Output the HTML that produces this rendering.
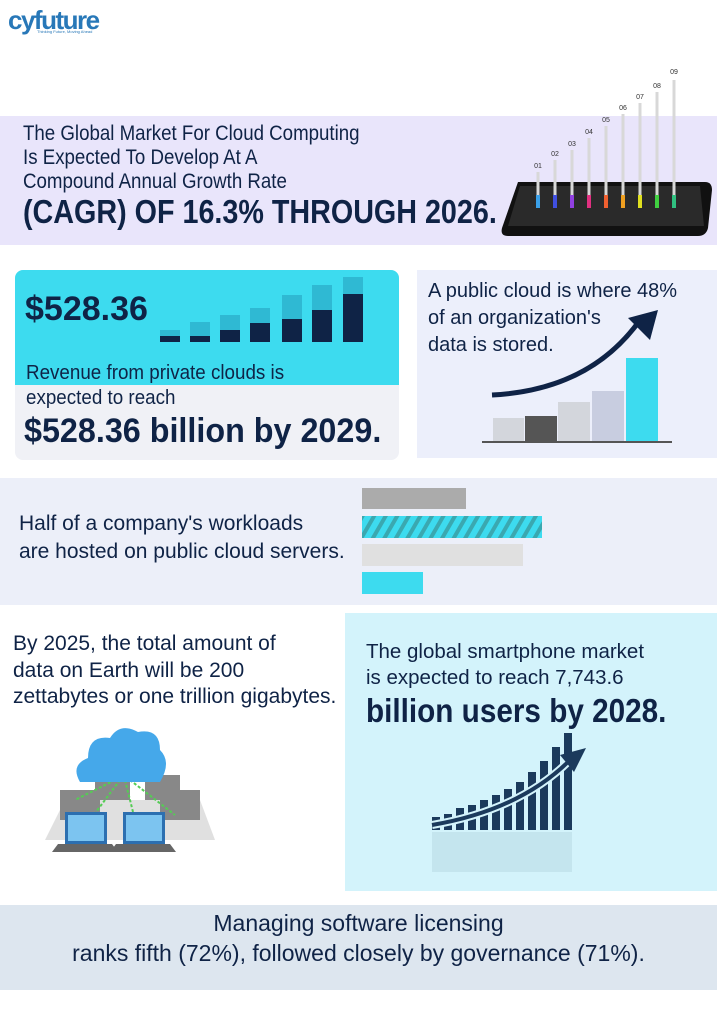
<!DOCTYPE html>
<html><head><meta charset="utf-8"><style>
body{margin:0;width:717px;height:1024px;background:#fff;position:relative;overflow:hidden;font-family:"Liberation Sans",sans-serif;color:#0f2346}
.a{position:absolute;white-space:nowrap;transform-origin:0 0}
.b{font-weight:bold}
</style></head><body>
<div class="a" style="left:0;top:116px;width:717px;height:129px;background:#e9e5fb"></div>
<div class="a" style="left:15px;top:270px;width:384px;height:190px;background:#f0f1f6;border-radius:8px"></div>
<div class="a" style="left:15px;top:270px;width:384px;height:115px;background:#3ddbef;border-radius:8px 8px 0 0"></div>
<div class="a" style="left:417px;top:270px;width:300px;height:188px;background:#eceffb"></div>
<div class="a" style="left:0;top:478px;width:717px;height:127px;background:#eceff9"></div>
<div class="a" style="left:345px;top:613px;width:372px;height:278px;background:#d3f3fb"></div>
<div class="a" style="left:0;top:905px;width:717px;height:85px;background:#dde6ef"></div>

<svg class="a" style="left:0;top:0" width="717" height="1024">
<path d="M518 182 L705 182 Q712 182 712 190 L708 228 Q706 236 698 236 L508 236 Q500 236 502 228 Z" fill="#111"/>
<path d="M520 186 L700 186 L704 226 L508 226 Z" fill="#2a2a2a"/>
<g stroke="#d8d8d8" stroke-width="3">
<line x1="538" y1="172" x2="538" y2="200"/><line x1="555" y1="160" x2="555" y2="200"/><line x1="572" y1="150" x2="572" y2="200"/><line x1="589" y1="138" x2="589" y2="200"/><line x1="606" y1="126" x2="606" y2="200"/><line x1="623" y1="114" x2="623" y2="200"/><line x1="640" y1="103" x2="640" y2="200"/><line x1="657" y1="92" x2="657" y2="200"/><line x1="674" y1="80" x2="674" y2="200"/></g>
<g stroke-width="4"><line x1="538" y1="195" x2="538" y2="208" stroke="#3aa0e8"/><line x1="555" y1="195" x2="555" y2="208" stroke="#4050e0"/><line x1="572" y1="195" x2="572" y2="208" stroke="#9040e0"/><line x1="589" y1="195" x2="589" y2="208" stroke="#e03080"/><line x1="606" y1="195" x2="606" y2="208" stroke="#f06030"/><line x1="623" y1="195" x2="623" y2="208" stroke="#f0a020"/><line x1="640" y1="195" x2="640" y2="208" stroke="#e0e020"/><line x1="657" y1="195" x2="657" y2="208" stroke="#40d040"/><line x1="674" y1="195" x2="674" y2="208" stroke="#30c080"/></g>
<g font-size="7" fill="#333" font-family="Liberation Sans,sans-serif" text-anchor="middle"><text x="538" y="168">01</text><text x="555" y="156">02</text><text x="572" y="146">03</text><text x="589" y="134">04</text><text x="606" y="122">05</text><text x="623" y="110">06</text><text x="640" y="99">07</text><text x="657" y="88">08</text><text x="674" y="74">09</text></g>
<g fill="#2fb9d3"><rect x="160" y="330" width="20" height="12"/><rect x="190" y="322" width="20" height="20"/><rect x="220" y="315" width="20" height="27"/><rect x="250" y="308" width="20" height="34"/><rect x="282" y="295" width="20" height="47"/><rect x="312" y="285" width="20" height="57"/><rect x="343" y="277" width="20" height="65"/></g>
<g fill="#0f2346"><rect x="160" y="336" width="20" height="6"/><rect x="190" y="336" width="20" height="6"/><rect x="220" y="330" width="20" height="12"/><rect x="250" y="323" width="20" height="19"/><rect x="282" y="319" width="20" height="23"/><rect x="312" y="310" width="20" height="32"/><rect x="343" y="294" width="20" height="48"/></g>
<rect x="493" y="418" width="31" height="23" fill="#d3d6dc"/><rect x="525" y="416" width="32" height="25" fill="#555"/><rect x="558" y="402" width="32" height="39" fill="#d3d6dc"/><rect x="592" y="391" width="32" height="50" fill="#c8cde0"/><rect x="626" y="358" width="32" height="83" fill="#3ddbef"/>
<line x1="482" y1="442" x2="672" y2="442" stroke="#555" stroke-width="2"/>
<path d="M492 395 Q590 390 640 320" stroke="#0f2346" stroke-width="5" fill="none"/>
<path d="M628 318 L658 310 L650 340 Z" fill="#0f2346"/>
<defs><pattern id="h" width="10" height="10" patternUnits="userSpaceOnUse" patternTransform="rotate(30)"><rect width="10" height="10" fill="#3ddbef"/><rect width="4" height="10" fill="#3aa8b0"/></pattern></defs>
<rect x="362" y="488" width="104" height="21" fill="#ababab"/>
<rect x="362" y="516" width="180" height="22" fill="url(#h)"/>
<rect x="362" y="544" width="161" height="22" fill="#e0e0e0"/>
<rect x="362" y="572" width="61" height="22" fill="#3ddbef"/>
<path d="M65 800 L200 800 L215 840 L45 840 Z" fill="#ccc" opacity=".6"/>
<g fill="#888"><rect x="60" y="790" width="40" height="30"/><rect x="160" y="790" width="40" height="30"/><rect x="95" y="775" width="35" height="25"/><rect x="145" y="775" width="35" height="25"/></g>
<g stroke="#5c5" stroke-width="2" stroke-dasharray="3 2" fill="none"><path d="M120 780 L90 820"/><path d="M125 780 L135 820"/><path d="M130 780 L175 815"/><path d="M115 780 L75 800"/></g>
<rect x="65" y="812" width="42" height="32" fill="#2c6fb0"/><rect x="68" y="815" width="36" height="26" fill="#7cc4f0"/><path d="M58 844 L112 844 L118 852 L52 852 Z" fill="#666"/>
<rect x="123" y="812" width="42" height="32" fill="#2c6fb0"/><rect x="126" y="815" width="36" height="26" fill="#7cc4f0"/><path d="M116 844 L170 844 L176 852 L110 852 Z" fill="#666"/>
<path d="M80 782 Q70 765 88 758 Q88 735 110 738 Q120 722 138 732 Q160 728 160 750 Q172 762 160 782 Z" fill="#45a8ea"/>
<g fill="#1b3a5c"><rect x="432" y="817" width="8" height="13"/><rect x="444" y="814" width="8" height="16"/><rect x="456" y="808" width="8" height="22"/><rect x="468" y="805" width="8" height="25"/><rect x="480" y="800" width="8" height="30"/><rect x="492" y="795" width="8" height="35"/><rect x="504" y="789" width="8" height="41"/><rect x="516" y="782" width="8" height="48"/><rect x="528" y="772" width="8" height="58"/><rect x="540" y="761" width="8" height="69"/><rect x="552" y="747" width="8" height="83"/><rect x="564" y="733" width="8" height="97"/></g>
<g fill="#1b3a5c" opacity=".08"><rect x="432" y="832" width="140" height="40"/></g>
<path d="M432 825 Q520 810 570 760" stroke="#d3f3fb" stroke-width="8" fill="none"/>
<path d="M432 825 Q520 810 570 760" stroke="#1b3a5c" stroke-width="4" fill="none"/>
<path d="M560 755 L586 748 L574 772 Z" fill="#1b3a5c"/>
</svg>

<div class="a b" style="left:8px;top:5px;font-size:26px;color:#2878b8;letter-spacing:-1.5px">cyfuture</div>
<div class="a" style="left:37px;top:29px;font-size:4px;color:#2878b8">Thinking Future, Moving Ahead</div>

<div class="a" style="left:23px;top:122px;font-size:21px;transform:scaleX(.89)">The Global Market For Cloud Computing</div>
<div class="a" style="left:23px;top:146px;font-size:21px;transform:scaleX(.89)">Is Expected To Develop At A</div>
<div class="a" style="left:23px;top:170px;font-size:21px;transform:scaleX(.89)">Compound Annual Growth Rate</div>
<div class="a b" style="left:23px;top:193px;font-size:33px;transform:scaleX(.87)">(CAGR) OF 16.3% THROUGH 2026.</div>

<div class="a b" style="left:25px;top:290px;font-size:34px">$528.36</div>
<div class="a" style="left:26px;top:362px;font-size:20px;transform:scaleX(.94)">Revenue from private clouds is</div>
<div class="a" style="left:26px;top:387px;font-size:20px;transform:scaleX(.94)">expected to reach</div>
<div class="a b" style="left:24px;top:412px;font-size:34px;transform:scaleX(.95)">$528.36 billion by 2029.</div>

<div class="a" style="left:428px;top:280px;font-size:20px">A public cloud is where 48%</div>
<div class="a" style="left:428px;top:307px;font-size:20px">of an organization's</div>
<div class="a" style="left:428px;top:334px;font-size:20px">data is stored.</div>

<div class="a" style="left:19px;top:512px;font-size:21px">Half of a company's workloads</div>
<div class="a" style="left:19px;top:540px;font-size:21px">are hosted on public cloud servers.</div>

<div class="a" style="left:13px;top:632px;font-size:21px">By 2025, the total amount of</div>
<div class="a" style="left:13px;top:659px;font-size:21px">data on Earth will be 200</div>
<div class="a" style="left:13px;top:685px;font-size:21px">zettabytes or one trillion gigabytes.</div>

<div class="a" style="left:366px;top:640px;font-size:20.5px">The global smartphone market</div>
<div class="a" style="left:366px;top:666px;font-size:20.5px">is expected to reach 7,743.6</div>
<div class="a b" style="left:366px;top:692px;font-size:33px;transform:scaleX(.9)">billion users by 2028.</div>

<div class="a" style="left:0;width:717px;text-align:center;top:910px;font-size:23px">Managing software licensing</div>
<div class="a" style="left:0;width:717px;text-align:center;top:940px;font-size:23px">ranks fifth (72%), followed closely by governance (71%).</div>
</body></html>
